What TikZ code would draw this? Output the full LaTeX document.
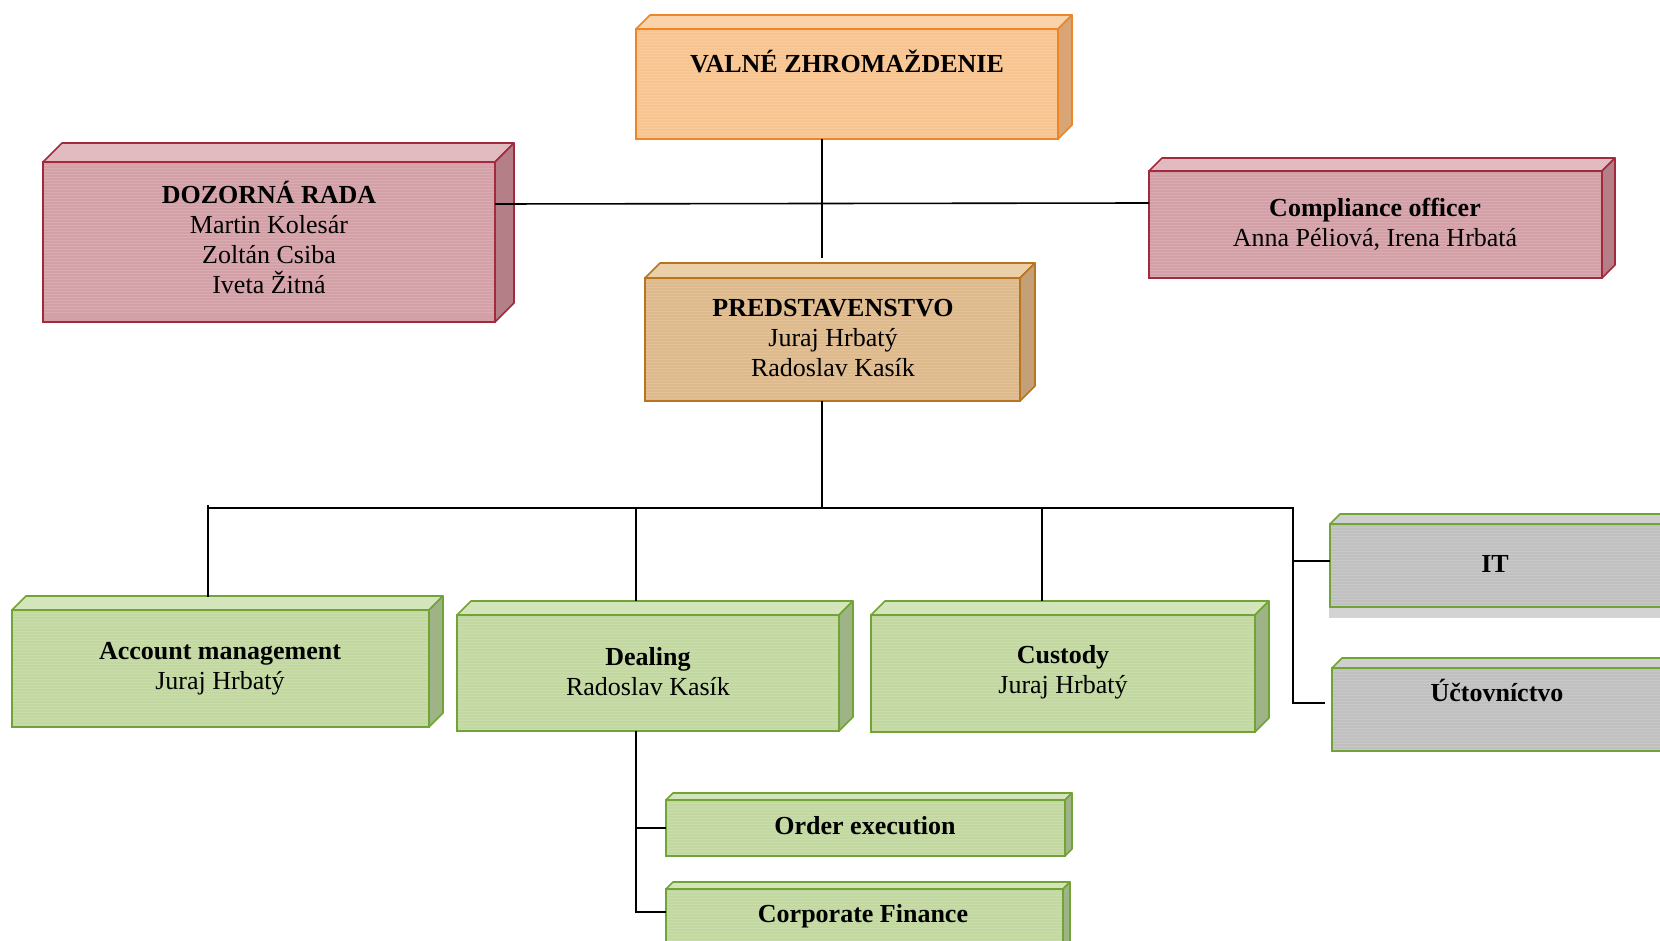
\documentclass[tikz,border=0pt]{standalone}
\usepackage{fontspec}
\setmainfont{Liberation Serif}
\usetikzlibrary{fit,calc}
\definecolor{orFront}{HTML}{F8C490}
\definecolor{orTop}{HTML}{FAD3AA}
\definecolor{orSide}{HTML}{D9A575}
\definecolor{orBord}{HTML}{EE8526}
\definecolor{tnFront}{HTML}{DDB98B}
\definecolor{tnTop}{HTML}{EACFA7}
\definecolor{tnSide}{HTML}{C3A078}
\definecolor{tnBord}{HTML}{B8741E}
\definecolor{pkFront}{HTML}{D4A0A7}
\definecolor{pkTop}{HTML}{E2BBC0}
\definecolor{pkSide}{HTML}{B57F87}
\definecolor{pkBord}{HTML}{A32A3C}
\definecolor{grFront}{HTML}{C2D8A0}
\definecolor{grTop}{HTML}{D4E5BC}
\definecolor{grSide}{HTML}{9EB486}
\definecolor{grBord}{HTML}{72A336}
\definecolor{gyFront}{HTML}{C0C0C0}
\definecolor{gyTop}{HTML}{CFCFCF}
\definecolor{gyBand}{HTML}{D3D3D3}
\tikzset{
  face/.style={inner sep=0pt, outer sep=0pt, line width=1.6pt,
    path picture={\foreach \k in {0,3,...,150}{\draw[white,opacity=0.13,line width=0.7pt]
      ([yshift=-\k pt]path picture bounding box.north west) -- ([yshift=-\k pt]path picture bounding box.north east);}}},
  lbl/.style={align=center, font=\fontsize{26}{30}\selectfont, inner sep=0pt},
  conn/.style={line width=1.6pt, black},
  rim/.style={line width=1.6pt, line join=round},
}
% #1 name, #2 corner, #3 corner, #4 depth, #5 front, #6 top, #7 side, #8 border
\newcommand\cubebox[8]{%
  \node[face, draw=#8, fill=#5, fit={#2 #3}] (#1) {};
  \filldraw[rim, fill=#6, draw=#8] (#1.north west) -- ++(#4,-#4) -- ($(#1.north east)+(#4,-#4)$) -- (#1.north east) -- cycle;
  \filldraw[rim, fill=#7, draw=#8] (#1.north east) -- ++(#4,-#4) -- ($(#1.south east)+(#4,-#4)$) -- (#1.south east) -- cycle;
}
\begin{document}
\begin{tikzpicture}[x=1pt,y=-1pt]
\useasboundingbox (0,0) rectangle (1660,941);
\clip (0,0) rectangle (1660,941);

% boxes
\cubebox{valne}{(636,29)}{(1058,139)}{14}{orFront}{orTop}{orSide}{orBord}
\cubebox{doz}{(43,162)}{(495,322)}{19}{pkFront}{pkTop}{pkSide}{pkBord}
\cubebox{comp}{(1149,171)}{(1602,278)}{13}{pkFront}{pkTop}{pkSide}{pkBord}
\cubebox{pred}{(645,278)}{(1020,401)}{15}{tnFront}{tnTop}{tnSide}{tnBord}
\cubebox{acc}{(12,610)}{(429,727)}{14}{grFront}{grTop}{grSide}{grBord}
\cubebox{deal}{(457,615)}{(839,731)}{14}{grFront}{grTop}{grSide}{grBord}
\cubebox{cust}{(871,615)}{(1255,732)}{14}{grFront}{grTop}{grSide}{grBord}
\cubebox{order}{(666,800)}{(1065,856)}{7}{grFront}{grTop}{grSide}{grBord}
\cubebox{corp}{(666,889)}{(1063,960)}{7}{grFront}{grTop}{grSide}{grBord}

% IT and accounting (run past the right edge)
\fill[gyBand] (1329,607) rectangle (1680,618);
\cubebox{it}{(1330,524)}{(1690,607)}{10}{gyFront}{gyTop}{gyFront}{grBord}
\cubebox{ucto}{(1332,668)}{(1690,751)}{10}{gyFront}{gyTop}{gyFront}{grBord}

% texts
\node[lbl, font=\fontsize{26}{30}\selectfont\bfseries] (valne-t) at (847,61) {VALNÉ ZHROMAŽDENIE};
\node[lbl] (doz-t) at (269,237) {\textbf{DOZORNÁ RADA}\\Martin Kolesár\\Zoltán Csiba\\Iveta Žitná};
\node[lbl] (comp-t) at (1375,224) {\textbf{Compliance officer}\\Anna Péliová, Irena Hrbatá};
\node[lbl] (pred-t) at (833,338) {\textbf{PREDSTAVENSTVO}\\Juraj Hrbatý\\Radoslav Kasík};
\node[lbl] (acc-t) at (220,669) {\textbf{Account management}\\Juraj Hrbatý};
\node[lbl] (deal-t) at (648,672) {\textbf{Dealing}\\Radoslav Kasík};
\node[lbl] (cust-t) at (1063,672) {\textbf{Custody}\\Juraj Hrbatý};
\node[lbl, font=\fontsize{26}{30}\selectfont\bfseries] (it-t) at (1495,564) {IT};
\node[lbl, font=\fontsize{26}{30}\selectfont\bfseries] (ucto-t) at (1497,690) {Účtovníctvo};
\node[lbl, font=\fontsize{26}{30}\selectfont\bfseries] (order-t) at (865,826) {Order execution};
\node[lbl, font=\fontsize{26}{30}\selectfont\bfseries] (corp-t) at (863,916) {Corporate Finance};

% helper coordinates
\coordinate (spine) at (822,0);
\coordinate (dozy) at (0,204);
\coordinate (compy) at (0,203);
\coordinate (busL) at (208,508);
\coordinate (busR) at (1293,508);
\coordinate (itj) at (1293,561);
\coordinate (uctj) at (1293,703);
\coordinate (dx) at (636,0);
\coordinate (cx) at (1042,0);
\coordinate (corpj) at (636,912);

% connectors
\draw[conn] (valne.south -| spine) -- ($(pred.north -| spine)+(0,-20)$);
\draw[conn] (doz.east |- dozy) -- (comp.west |- compy);
\draw[conn] (pred.south -| spine) -- (spine |- busL);
\draw[conn] (busL) -- (busR) -- (uctj) -- ($(ucto.west |- uctj)+(-7,0)$);
\draw[conn] (itj) -- (it.west |- itj);
\draw[conn] ($(busL)+(0,-3)$) -- ($(acc.north -| busL)+(0,-13)$);
\draw[conn] (dx |- busL) -- ($(deal.north -| dx)+(0,-14)$);
\draw[conn] (cx |- busL) -- ($(cust.north -| cx)+(0,-14)$);
\draw[conn] (deal.south -| dx) -- (corpj) -- (corp.west |- corpj);
\draw[conn] (dx |- order.west) -- (order.west);
\end{tikzpicture}
\end{document}
